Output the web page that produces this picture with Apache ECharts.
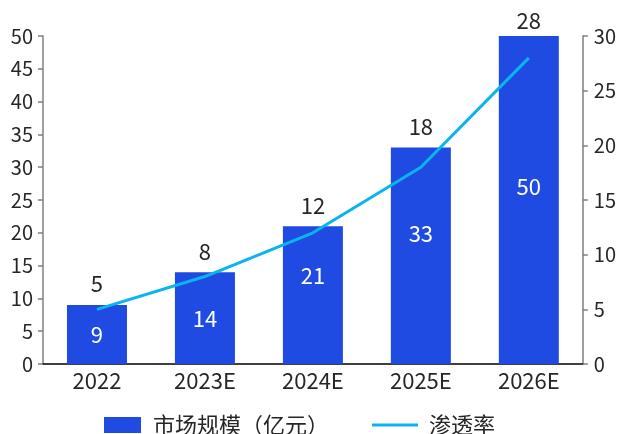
<!DOCTYPE html>
<html>
<head>
<meta charset="utf-8">
<script src="https://cdn.jsdelivr.net/npm/echarts@6/dist/echarts.min.js"></script>
<style>
  html, body { margin: 0; padding: 0; background: #fff; }
  #chart { width: 619px; height: 434px; }
</style>
</head>
<body>
<div id="chart"></div>
<script>
// Market size (亿元) and penetration rate (%) by year
const years = ['2022', '2023E', '2024E', '2025E', '2026E'];
const marketSize = [9, 14, 21, 33, 50];
const penetration = [5, 8, 12, 18, 28];
const leftTicks = { min: 0, max: 50, interval: 5 };
const rightTicks = { min: 0, max: 30, interval: 5 };
const seriesNames = ['市场规模（亿元）', '渗透率'];

const FONT = '"Noto Sans CJK SC", "Noto Sans", sans-serif';
const TEXT = '#262626';
const BAR = '#204BE2';
const LINE = '#0AB4EE';

// vertical placement of the white value inside each bar (fraction of bar height from top)
const innerLabelY = ['51%', '51%', '36%', '40%', '46%'];

const chart = echarts.init(document.getElementById('chart'), null, { renderer: 'canvas' });

const option = {
  animation: false,
  textStyle: { fontFamily: FONT },
  grid: { left: 43, right: 35, top: 36, bottom: 70 },
  legend: [
    {
      left: 104, top: 414, padding: 0,
      itemWidth: 37, itemHeight: 16,
      icon: 'rect',
      data: [seriesNames[0]],
      textStyle: { fontSize: 22, color: TEXT, fontFamily: FONT, padding: [0, 0, 0, 7] }
    },
    {
      left: 372, top: 414, padding: 0,
      itemWidth: 46, itemHeight: 3,
      icon: 'rect',
      data: [seriesNames[1]],
      textStyle: { fontSize: 22, color: TEXT, fontFamily: FONT, padding: [0, 0, 0, 6] }
    }
  ],
  xAxis: {
    type: 'category',
    data: years,
    axisLine: { lineStyle: { color: '#000', width: 1.5 } },
    axisTick: { show: false },
    axisLabel: { fontSize: 22, color: TEXT, margin: 6, fontFamily: FONT }
  },
  yAxis: [
    {
      type: 'value',
      min: leftTicks.min, max: leftTicks.max, interval: leftTicks.interval,
      splitLine: { show: false },
      axisLine: { show: true, lineStyle: { color: '#7f7f7f', width: 1.5 } },
      axisTick: { show: true, length: 5, lineStyle: { color: '#7f7f7f', width: 1.5 } },
      axisLabel: { fontSize: 20, color: TEXT, margin: 10, fontFamily: FONT }
    },
    {
      type: 'value',
      position: 'right',
      min: rightTicks.min, max: rightTicks.max, interval: rightTicks.interval,
      splitLine: { show: false },
      axisLine: { show: true, lineStyle: { color: '#7f7f7f', width: 1.5 } },
      axisTick: { show: true, length: 5, lineStyle: { color: '#7f7f7f', width: 1.5 } },
      axisLabel: { fontSize: 20, color: TEXT, margin: 11, fontFamily: FONT }
    }
  ],
  series: [
    {
      name: seriesNames[0],
      type: 'bar',
      yAxisIndex: 0,
      barWidth: 60,
      itemStyle: { color: BAR },
      data: marketSize.map((v, i) => ({
        value: v,
        label: { position: ['50%', innerLabelY[i]] }
      })),
      label: {
        show: true,
        align: 'center',
        verticalAlign: 'middle',
        color: '#fff',
        fontSize: 22,
        fontFamily: FONT
      }
    },
    {
      name: seriesNames[1],
      type: 'line',
      yAxisIndex: 1,
      data: penetration,
      showSymbol: true,
      symbol: 'circle',
      symbolSize: 0,
      itemStyle: { color: LINE },
      lineStyle: { color: LINE, width: 3 },
      label: {
        show: true,
        position: 'top',
        color: TEXT,
        fontSize: 22,
        fontFamily: FONT
      },
      // rate labels sit just above the matching bar
      labelLayout: function (params) {
        const i = params.dataIndex;
        const barTop = chart.convertToPixel({ yAxisIndex: 0 }, marketSize[i]);
        const target = Math.max(barTop - 10, 32);
        const r = params.labelRect;
        return { dy: target - (r.y + r.height) };
      }
    }
  ]
};

chart.setOption(option);
</script>
</body>
</html>
